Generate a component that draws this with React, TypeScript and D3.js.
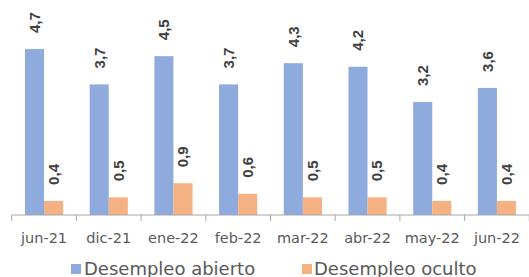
import React from "react";
import * as d3 from "d3";

const categories = ["jun-21", "dic-21", "ene-22", "feb-22", "mar-22", "abr-22", "may-22", "jun-22"];
const abierto = [4.7, 3.7, 4.5, 3.7, 4.3, 4.2, 3.2, 3.6];
const oculto = [0.4, 0.5, 0.9, 0.6, 0.5, 0.5, 0.4, 0.4];
const seriesNames = ["Desempleo abierto", "Desempleo oculto"];
const seriesColors = ["#8faadc", "#f4b183"];

const App = () => {
    const width = 529;
    const height = 277;
    const axisY = 215;

    const x = d3.scaleBand().domain(categories).range([11.7, 529.3]).paddingInner(0.41).paddingOuter(0.205);
    const xSub = d3.scaleBand().domain(["a", "o"]).range([0, x.bandwidth()]);
    const y = d3.scaleLinear().domain([0, 5]).range([axisY, axisY - 5 * 35.3]);
    const fmt = (v: number) => v.toFixed(1).replace(".", ",");
    const step = x.step();

    const series = [abierto, oculto];

    return (
        <div style={{ position: "fixed", left: 0, top: 0 }}>
            <svg width={width} height={height} style={{ display: "block", background: "white" }}>
                {/* bars */}
                {series.map((vals, s) => (
                    <g key={s}>
                        {categories.map((c, i) => {
                            const bx = (x(c) || 0) + (xSub(s === 0 ? "a" : "o") || 0);
                            return (
                                <rect
                                    key={c}
                                    x={bx}
                                    y={y(vals[i])}
                                    width={xSub.bandwidth()}
                                    height={axisY - y(vals[i])}
                                    fill={seriesColors[s]}
                                />
                            );
                        })}
                    </g>
                ))}

                {/* data labels */}
                {series.map((vals, s) => (
                    <g key={"l" + s}>
                        {categories.map((c, i) => {
                            const cx = (x(c) || 0) + (xSub(s === 0 ? "a" : "o") || 0) + xSub.bandwidth() / 2;
                            return (
                                <text
                                    key={c}
                                    transform={`translate(${cx},${y(vals[i]) - 16}) rotate(-90)`}
                                    dy="0.36em"
                                    fontFamily="'Liberation Sans', Arial, sans-serif"
                                    fontWeight="bold"
                                    fontSize={15}
                                    fill="#404040"
                                >
                                    {fmt(vals[i])}
                                </text>
                            );
                        })}
                    </g>
                ))}

                {/* x axis */}
                <line x1={11.7} x2={width} y1={axisY} y2={axisY} stroke="#a6a6a6" strokeWidth={1} />
                {d3.range(categories.length + 1).map((k) => (
                    <line
                        key={k}
                        x1={11.7 + k * step}
                        x2={11.7 + k * step}
                        y1={axisY}
                        y2={axisY + 6}
                        stroke="#a6a6a6"
                        strokeWidth={1}
                    />
                ))}
                {categories.map((c) => (
                    <text
                        key={c}
                        x={(x(c) || 0) + x.bandwidth() / 2}
                        y={243}
                        textAnchor="middle"
                        fontFamily="'DejaVu Sans', sans-serif"
                        fontSize={14.5}
                        fill="#595959"
                    >
                        {c}
                    </text>
                ))}

                {/* legend */}
                <rect x={71} y={264} width={10} height={10} fill={seriesColors[0]} />
                <text x={84} y={275} fontFamily="'DejaVu Sans', sans-serif" fontSize={18} fill="#595959">
                    {seriesNames[0]}
                </text>
                <rect x={302} y={264} width={10} height={10} fill={seriesColors[1]} />
                <text x={314} y={275} fontFamily="'DejaVu Sans', sans-serif" fontSize={18} fill="#595959">
                    {seriesNames[1]}
                </text>
            </svg>
        </div>
    );
};

export default App;
